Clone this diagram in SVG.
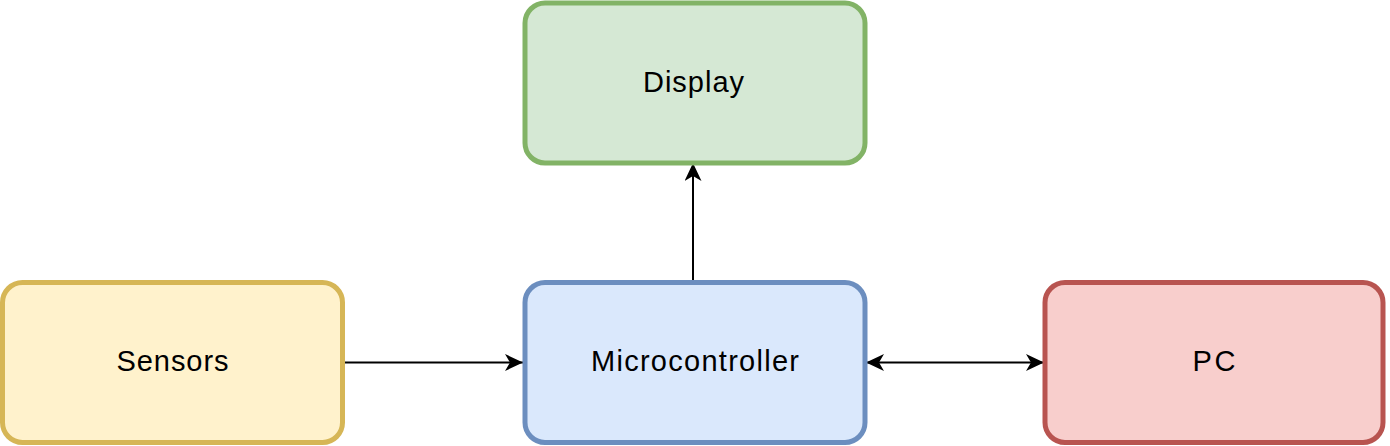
<svg xmlns="http://www.w3.org/2000/svg" width="1390" height="446" viewBox="0 0 1390 446">
  <style>
    .box { stroke-width: 5; }
    .lbl { font-family: "Liberation Sans", Arial, Helvetica, sans-serif; font-size: 29px; fill: #000; text-anchor: middle; }
    .edge { stroke: #000; stroke-width: 2; fill: none; }
  </style>
  <defs>
    <marker id="arr" viewBox="0 0 18 17" refX="18" refY="8.5" markerWidth="18" markerHeight="17" markerUnits="userSpaceOnUse" orient="auto-start-reverse">
      <path d="M0,0 L18,8.5 L0,17 L5,8.5 Z" fill="#000"/>
    </marker>
  </defs>
  <rect width="1390" height="446" fill="#ffffff"/>
  <g id="connectors">
    <line class="edge" x1="693" y1="281" x2="693" y2="163" marker-end="url(#arr)"/>
    <line class="edge" x1="343" y1="362.5" x2="523" y2="362.5" marker-end="url(#arr)"/>
    <line class="edge" x1="866" y1="362.5" x2="1044" y2="362.5" marker-start="url(#arr)" marker-end="url(#arr)"/>
  </g>
  <g id="display">
    <rect class="box" x="525" y="3" width="340" height="160" rx="20" ry="20" fill="#d5e8d4" stroke="#82b366"/>
    <text class="lbl" x="693.5" y="92" textLength="101" lengthAdjust="spacing">Display</text>
  </g>
  <g id="sensors">
    <rect class="box" x="2.5" y="282.5" width="340" height="160" rx="20" ry="20" fill="#fff2cc" stroke="#d6b656"/>
    <text class="lbl" x="172.5" y="371" textLength="112" lengthAdjust="spacing">Sensors</text>
  </g>
  <g id="microcontroller">
    <rect class="box" x="525" y="282.5" width="340" height="160" rx="20" ry="20" fill="#dae8fc" stroke="#6c8ebf"/>
    <text class="lbl" x="695" y="371" textLength="208" lengthAdjust="spacing">Microcontroller</text>
  </g>
  <g id="pc">
    <rect class="box" x="1045" y="282.5" width="338" height="160" rx="20" ry="20" fill="#f8cecc" stroke="#b85450"/>
    <text class="lbl" x="1214" y="371" textLength="43" lengthAdjust="spacing">PC</text>
  </g>
</svg>
